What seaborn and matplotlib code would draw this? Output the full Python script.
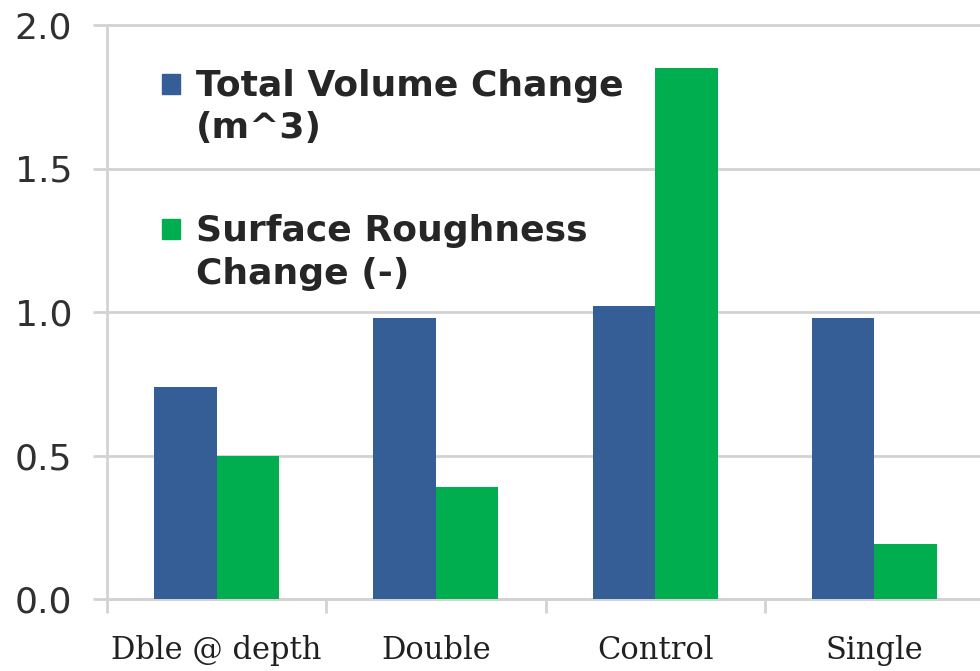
import matplotlib
matplotlib.use("Agg")
import matplotlib.pyplot as plt
import matplotlib.patches as mpatches
from matplotlib.legend_handler import HandlerPatch
import pandas as pd
import seaborn as sns

# Treatments and measured changes
categories = ["Dble @ depth", "Double", "Control", "Single"]
volume_change = [0.74, 0.98, 1.02, 0.98]
roughness_change = [0.50, 0.39, 1.85, 0.19]
series_names = ["Total Volume Change\n(m^3)", "Surface Roughness\nChange (-)"]
y_ticks = [0.0, 0.5, 1.0, 1.5, 2.0]

colors = ["#365E96", "#00AE4F"]

df = pd.DataFrame({
    "treatment": categories * 2,
    "value": volume_change + roughness_change,
    "series": [series_names[0]] * len(categories) + [series_names[1]] * len(categories),
})

sns.set_theme(style="white")
plt.rcParams["font.family"] = ["DejaVu Sans"]

fig = plt.figure(figsize=(9.8, 6.71), dpi=100)
ax = fig.add_axes([107 / 980, 72 / 671, 877 / 980, (599 - 25) / 671])

sns.barplot(data=df, x="treatment", y="value", hue="series", order=categories,
            hue_order=series_names, palette=colors, width=0.57, gap=0,
            saturation=1, errorbar=None, ax=ax, legend=False, linewidth=0, zorder=3)

ax.set_ylim(0, 2.0)
ax.set_xlim(-0.5, len(categories) - 0.5)
ax.set_yticks(y_ticks)
ax.set_yticklabels([f"{t:.1f}" for t in y_ticks])
ax.set_xlabel("")
ax.set_ylabel("")

grid_color = "#D3D3D3"
ax.yaxis.grid(True, color=grid_color, linewidth=2, zorder=0)
ax.set_axisbelow(True)
for gl in ax.get_ygridlines():
    gl.set_clip_on(False)

for side in ["top", "right"]:
    ax.spines[side].set_visible(False)
for side in ["left", "bottom"]:
    ax.spines[side].set_color(grid_color)
    ax.spines[side].set_linewidth(2)

ax.tick_params(axis="y", which="major", length=10, width=2, color=grid_color,
               labelsize=26, labelcolor="#303030", pad=15, left=True)
ax.tick_params(axis="x", which="major", length=0, labelsize=22, labelcolor="#202020", pad=26)
ax.set_xticks([i + 0.5 for i in range(-1, len(categories))], minor=True)
ax.tick_params(axis="x", which="minor", length=10, width=2, color=grid_color, bottom=True)
for lbl in ax.get_xticklabels():
    lbl.set_family(["DejaVu Serif"])


def top_square(legend, orig_handle, xdescent, ydescent, width, height, fontsize):
    # square sits beside the first line of a two-line label
    return mpatches.Rectangle((-xdescent, -ydescent + 0.66 * fontsize), width, height)


handles = [mpatches.Patch(color=c, label=n) for c, n in zip(colors, series_names)]
leg = ax.legend(handles=handles, loc="upper left", bbox_to_anchor=(0.046, 0.949),
                frameon=False, prop={"family": "DejaVu Sans", "weight": "bold", "size": 26},
                handlelength=0.5, handleheight=0.5, handletextpad=0.45,
                labelspacing=1.9, borderaxespad=0,
                handler_map={mpatches.Patch: HandlerPatch(patch_func=top_square)})
for t in leg.get_texts():
    t.set_linespacing(1.32)

fig.savefig("out.png", dpi=100)
